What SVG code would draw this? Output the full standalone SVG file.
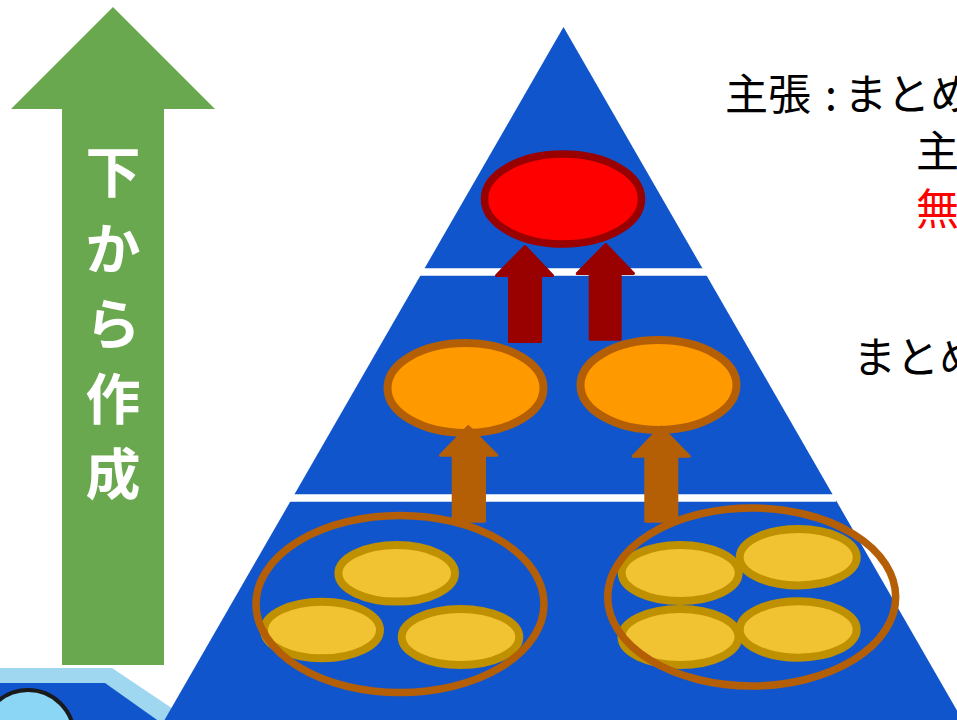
<svg xmlns="http://www.w3.org/2000/svg" width="957" height="720" viewBox="0 0 957 720">
<style>
.jp{font-family:"Noto Sans CJK JP","Noto Sans",sans-serif;}
.lbl{font-size:43px;fill:#000;}
.vt{font-size:55px;font-weight:bold;fill:#fff;text-anchor:middle;dominant-baseline:central;}
.small{fill:#F1C232;stroke:#BF9000;stroke-width:8;}
.group{fill:none;stroke:#B45F06;stroke-width:7.5;}
.mid{fill:#FF9900;stroke:#B45F06;stroke-width:8;}
.sep{stroke:#fff;stroke-width:7.5;}
.redArr{fill:#990000;stroke:#990000;stroke-width:3;stroke-linejoin:round;}
.orgArr{fill:#B45F06;stroke:#B45F06;stroke-width:3;stroke-linejoin:round;}
</style>
<rect width="957" height="720" fill="#fff"/>
<g id="bottom-left-shape">
<polygon points="0,668 112,668 200,727 0,727" fill="#9FD6F0"/>
<polygon points="0,683 105,683 160,722 0,722" fill="#1155CC"/>
<circle cx="28" cy="736" r="46" fill="#8CD6F5" stroke="#1a1a1a" stroke-width="4"/>
</g>
<g id="green-arrow">
<polygon points="113,7 215,109 164,109 164,665 62,665 62,109 11,109" fill="#6AA84F"/>
<text class="jp vt" x="113" y="168">下</text>
<text class="jp vt" x="113" y="245">か</text>
<text class="jp vt" x="113" y="320">ら</text>
<text class="jp vt" x="113" y="395">作</text>
<text class="jp vt" x="113" y="470">成</text>
</g>
<g id="pyramid">
<polygon points="563.5,27 974,740 153,740" fill="#1155CC"/>
<line class="sep" x1="420" y1="272" x2="708" y2="272"/>
<line class="sep" x1="290" y1="498" x2="836" y2="498"/>
</g>
<g id="claim">
<ellipse cx="563" cy="199" rx="78.5" ry="45" fill="#FF0000" stroke="#990000" stroke-width="7.5"/>
</g>
<g id="summary-left">
<ellipse class="mid" cx="465.5" cy="388" rx="78" ry="45"/>
</g>
<g id="summary-right">
<ellipse class="mid" cx="658.5" cy="385" rx="78" ry="45"/>
</g>
<g id="facts-left">
<ellipse class="small" cx="396.7" cy="573.3" rx="58.3" ry="28.3"/>
<ellipse class="small" cx="322" cy="630" rx="58" ry="28.3"/>
<ellipse class="small" cx="460.5" cy="637" rx="58.8" ry="28"/>
<ellipse class="group" cx="400" cy="604" rx="144" ry="88.5"/>
</g>
<g id="facts-right">
<ellipse class="small" cx="680.2" cy="573" rx="58.5" ry="28"/>
<ellipse class="small" cx="798.2" cy="557.2" rx="58.5" ry="28.2"/>
<ellipse class="small" cx="680" cy="637" rx="58.5" ry="28"/>
<ellipse class="small" cx="798.2" cy="629.5" rx="58.5" ry="28.2"/>
<ellipse class="group" cx="751.7" cy="597" rx="144" ry="89"/>
</g>
<g id="connectors">
<polygon class="redArr" points="525,246.5 552.5,275.5 540.5,275.5 540.5,341.5 509.5,341.5 509.5,275.5 496.5,275.5"/>
<polygon class="redArr" points="605.7,244.5 633.5,273.5 620.2,273.5 620.2,339.2 590.2,339.2 590.2,273.5 577.2,273.5"/>
<polygon class="orgArr" points="468.3,426.5 496.8,455.2 484.5,455.2 484.5,521.2 453.2,521.2 453.2,455.2 440.5,455.2"/>
<polygon class="orgArr" points="661,427.2 689.2,456.2 676.8,456.2 676.8,521.2 645.8,521.2 645.8,456.2 633.2,456.2"/>
</g>
<g id="labels">
<text class="jp lbl" y="110"><tspan x="725">主張</tspan><tspan x="825">:</tspan><tspan x="844">まとめ</tspan></text>
<text class="jp lbl" x="916" y="167">主</text>
<text class="jp lbl" x="916" y="225" style="fill:#FF0000">無</text>
<text class="jp lbl" x="853" y="373">まとめ</text>
</g>
</svg>
